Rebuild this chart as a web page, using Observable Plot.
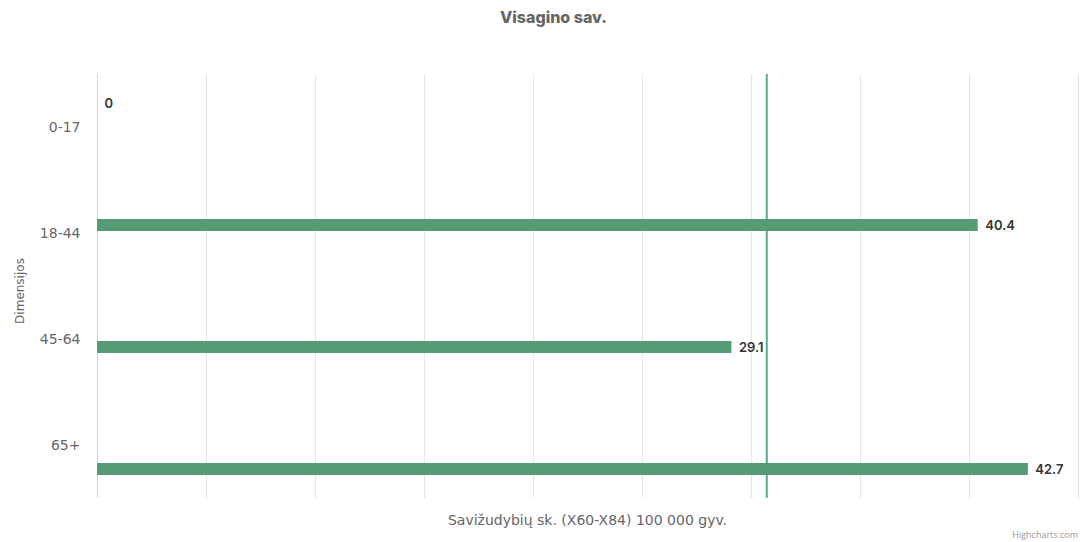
<!DOCTYPE html>
<html>
<head>
<meta charset="utf-8">
<script src="https://cdn.jsdelivr.net/npm/d3@7"></script>
<script src="https://cdn.jsdelivr.net/npm/@observablehq/plot@0.6"></script>
<style>
  body { margin: 0; background: #fff; }
  #wrap { position: relative; width: 1087px; height: 542px; font-family: "DejaVu Sans", sans-serif; }
  .title { position: absolute; left: 10px; width: 1087px; top: 7px; text-align: center; font-family: "Inter", "Noto Sans", sans-serif; font-weight: 800; font-size: 16px; color: #666; }
  .ytitle { position: absolute; left: 20px; top: 291px; transform: translate(-50%, -50%) rotate(-90deg); font-size: 12px; color: #666; white-space: nowrap; }
  .xtitle { position: absolute; left: 97px; width: 981px; top: 512px; text-align: center; font-size: 14px; color: #666; }
  .credit { position: absolute; right: 9px; top: 528px; font-family: "Open Sans", sans-serif; font-size: 9px; color: #999; }
  #chart { position: absolute; left: 0; top: 0; }
</style>
</head>
<body>
<div id="wrap">
  <div id="chart"></div>
  <div class="title">Visagino sav.</div>
  <div class="ytitle">Dimensijos</div>
  <div class="xtitle">Savižudybių sk. (X60-X84) 100 000 gyv.</div>
  <div class="credit">Highcharts.com</div>
</div>
<script>
const categories = ["0-17", "18-44", "45-64", "65+"];
const values = [0, 40.4, 29.1, 42.7];
const seriesIndex = [0, 1, 2, 3];
const average = [30.7];
const xTicks = [5, 10, 15, 20, 25, 30, 35, 40, 45];

const data = categories.map((c, i) => ({ category: c, value: values[i], series: seriesIndex[i] }));

const chart = Plot.plot({
  width: 1087,
  height: 542,
  marginTop: 73,
  marginBottom: 44,
  marginLeft: 97,
  marginRight: 9,
  style: { fontFamily: '"DejaVu Sans", sans-serif', fontSize: "14px", color: "#666", background: "white" },
  facet: { data: data, y: "category" },
  x: { domain: [0, 45], axis: null },
  y: { domain: seriesIndex, axis: null, paddingInner: 0.28, paddingOuter: 1.32 },
  fy: { domain: categories, padding: 0, label: null, tickSize: 0, tickPadding: 17, axis: "left" },
  marks: [
    Plot.ruleX(xTicks, { stroke: "#e6e6e6", strokeWidth: 1 }),
    Plot.ruleX([0], { stroke: "#ccd6eb", strokeWidth: 1 }),
    Plot.ruleX(average, { stroke: "#5aa78c", strokeWidth: 2 }),
    Plot.barX(data, { y: "series", x: "value", fill: "#559c74" }),
    Plot.text(data, { y: "series", x: "value", text: d => String(d.value), dx: 7, textAnchor: "start", fontWeight: 600, fill: "#333", fontSize: 13, fontFamily: '"Inter", sans-serif' })
  ]
});
document.getElementById("chart").appendChild(chart);
</script>
</body>
</html>
